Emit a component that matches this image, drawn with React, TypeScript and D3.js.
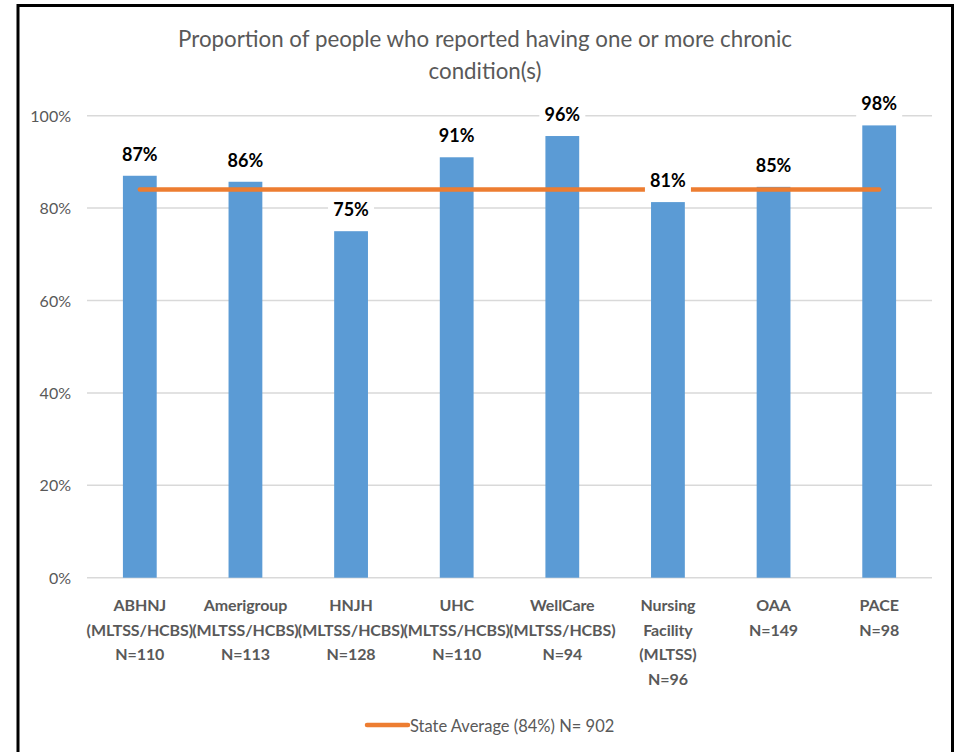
import React from "react";
import * as d3 from "d3";

const categories: string[][] = [
  ["ABHNJ", "(MLTSS/HCBS)", "N=110"],
  ["Amerigroup", "(MLTSS/HCBS)", "N=113"],
  ["HNJH", "(MLTSS/HCBS)", "N=128"],
  ["UHC", "(MLTSS/HCBS)", "N=110"],
  ["WellCare", "(MLTSS/HCBS)", "N=94"],
  ["Nursing", "Facility", "(MLTSS)", "N=96"],
  ["OAA", "N=149"],
  ["PACE", "N=98"],
];
const values: number[] = [87.0, 85.7, 75.0, 91.0, 95.6, 81.3, 84.6, 97.9];
const labels: string[] = ["87%", "86%", "75%", "91%", "96%", "81%", "85%", "98%"];
const stateAverage = 84;
const yTicks: number[] = [0, 20, 40, 60, 80, 100];
const titleLines: string[] = [
  "Proportion of people who reported having one or more chronic",
  "condition(s)",
];
const legendLabel = "State Average (84%) N= 902";

const W = 959;
const H = 752;
const FONT = "Lato, 'Open Sans', sans-serif";
const GRAY = "#595959";
const BLUE = "#5b9bd5";
const ORANGE = "#ed7d31";

export default function App() {
  const x = d3
    .scaleBand<number>()
    .domain(d3.range(categories.length))
    .range([87, 932])
    .paddingInner(0.68)
    .paddingOuter(0.34);
  const y = d3.scaleLinear().domain([0, 100]).range([577.7, 115.7]);
  const cx = (i: number) => (x(i) as number) + x.bandwidth() / 2;

  const lineGen = d3
    .line<number>()
    .x((i) => cx(i))
    .y(() => y(stateAverage));

  return (
    <svg
      width={W}
      height={H}
      style={{ position: "absolute", left: 0, top: 0, background: "#fff" }}
      fontFamily={FONT}
    >
      <rect x={0} y={0} width={W} height={H} fill="#fff" />
      <rect x={18} y={5.5} width={934.5} height={780} fill="none" stroke="#000" strokeWidth={3} />

      {titleLines.map((t, i) => (
        <text
          key={i}
          x={485}
          y={47 + i * 32}
          textAnchor="middle"
          fontSize={22.3}
          fill={GRAY}
        >
          {t}
        </text>
      ))}

      {yTicks.map((t) => (
        <g key={t}>
          <line x1={87} x2={932} y1={y(t)} y2={y(t)} stroke="#d9d9d9" strokeWidth={1.5} />
          <text x={71} y={y(t) + 6} textAnchor="end" fontSize={16} fill={GRAY}>
            {t}%
          </text>
        </g>
      ))}

      {values.map((v, i) => (
        <rect
          key={i}
          x={x(i)}
          y={y(v)}
          width={x.bandwidth()}
          height={y(0) - y(v)}
          fill={BLUE}
        />
      ))}

      <path
        d={lineGen([0, categories.length - 1]) || ""}
        fill="none"
        stroke={ORANGE}
        strokeWidth={4.5}
        strokeLinecap="round"
      />

      {values.map((v, i) => (
        <g key={i}>
          <rect x={cx(i) - 23} y={y(v) - 35} width={46} height={28} fill="#fff" />
          <text
            x={cx(i)}
            y={y(v) - 15}
            textAnchor="middle"
            fontSize={18}
            fontWeight="bold"
            fill="#000"
          >
            {labels[i]}
          </text>
        </g>
      ))}

      {categories.map((lines, i) => (
        <text
          key={i}
          x={cx(i)}
          textAnchor="middle"
          fontSize={16}
          fontWeight="bold"
          fill={GRAY}
          letterSpacing={-0.1}
        >
          {lines.map((l, j) => (
            <tspan key={j} x={cx(i)} y={611 + j * 24.5}>
              {l}
            </tspan>
          ))}
        </text>
      ))}

      <line x1={367} x2={408} y1={725} y2={725} stroke={ORANGE} strokeWidth={4.5} strokeLinecap="round" />
      <text x={410} y={731.5} fontSize={16.5} fill={GRAY}>
        {legendLabel}
      </text>
    </svg>
  );
}
